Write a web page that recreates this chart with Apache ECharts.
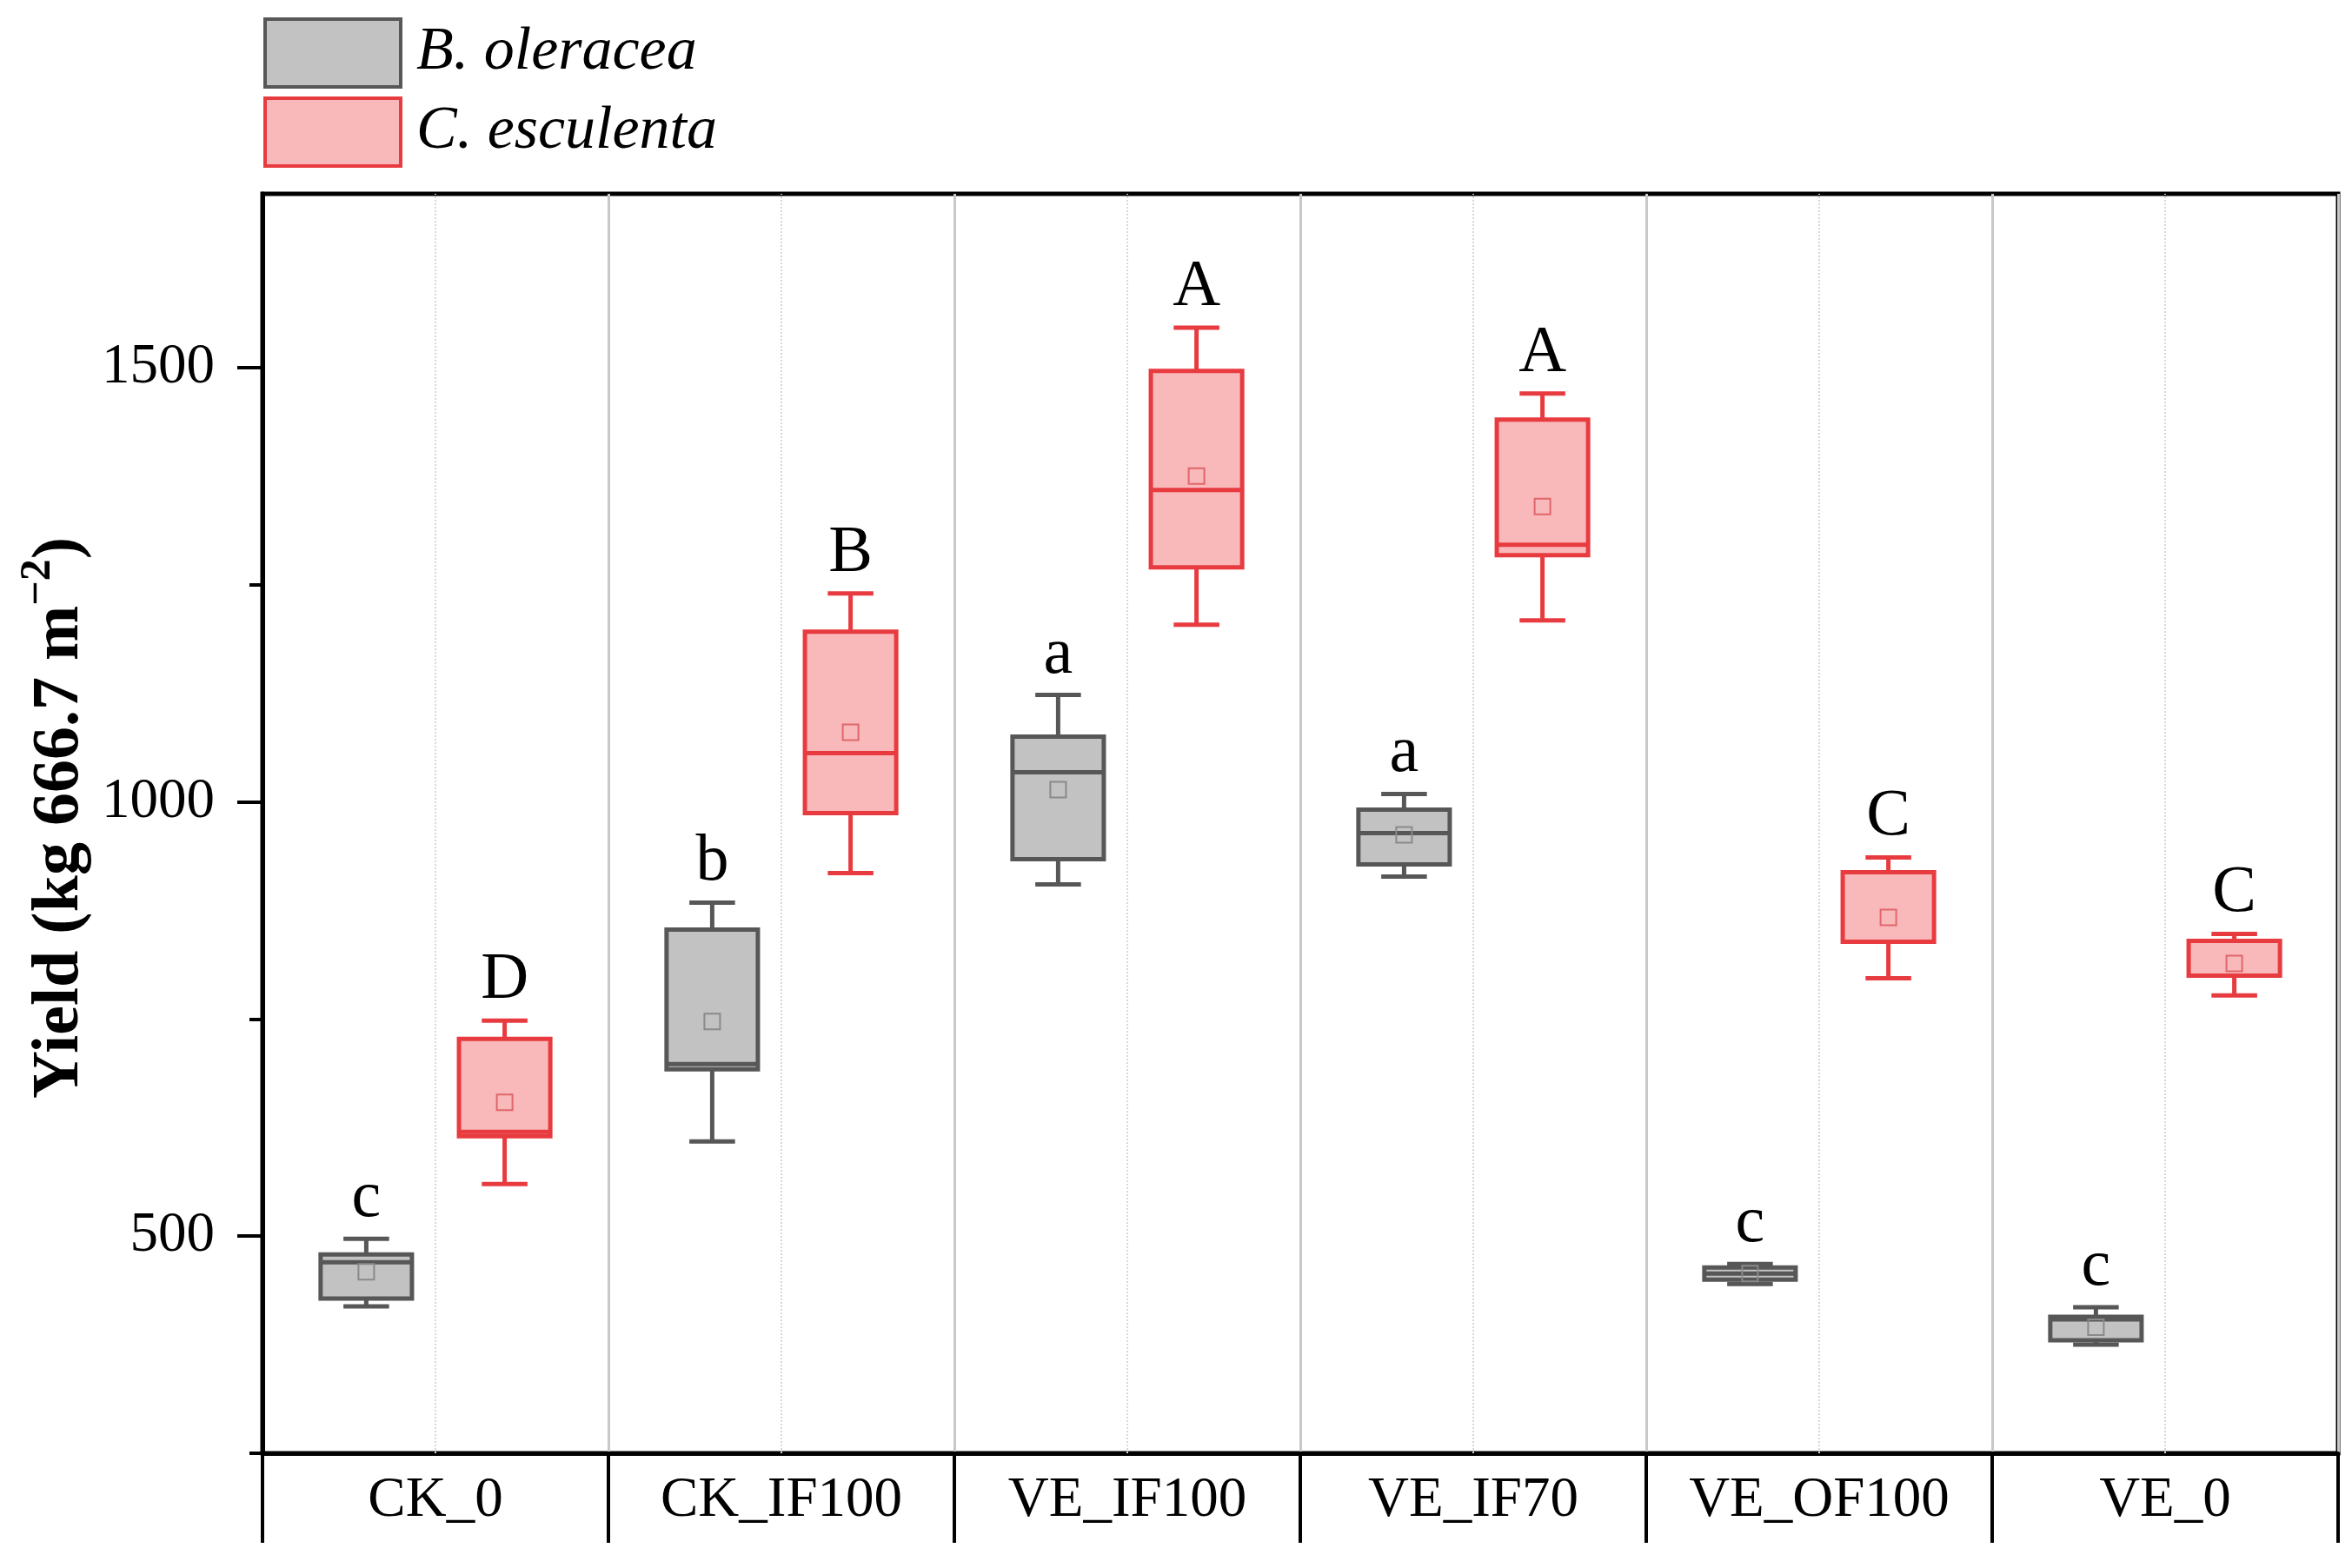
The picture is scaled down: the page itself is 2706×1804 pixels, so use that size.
<!DOCTYPE html>
<html>
<head>
<meta charset="utf-8">
<script src="https://cdn.jsdelivr.net/npm/echarts@6/dist/echarts.min.js"></script>
<style>
  html, body { margin: 0; padding: 0; background: #fff; }
  #chart { width: 2706px; height: 1804px; }
</style>
</head>
<body>
<div id="chart"></div>
<script>
var categories = ['CK_0', 'CK_IF100', 'VE_IF100', 'VE_IF70', 'VE_OF100', 'VE_0'];
// each row: [min, Q1, median, Q3, max, mean]
var oleracea = [
  [419, 428, 470, 479, 497, 459],
  [609, 692, 698, 853, 884, 747],
  [905, 934, 1034, 1075, 1123, 1014],
  [914, 928, 964, 991, 1009, 962],
  [445, 450, 457, 464, 468, 457],
  [375, 380, 404, 407, 418, 395]
];
var esculenta = [
  [560, 615, 620, 727, 748, 654],
  [918, 987, 1056, 1196, 1240, 1080],
  [1204, 1270, 1359, 1496, 1546, 1375],
  [1209, 1284, 1296, 1440, 1470, 1340],
  [797, 839, 839, 919, 936, 867],
  [777, 800, 800, 840, 848, 814]
];
var lettersOleracea = ['c', 'b', 'a', 'a', 'c', 'c'];
var lettersEsculenta = ['D', 'B', 'A', 'A', 'C', 'C'];
var majorTicks = [500, 1000, 1500];
var minorTicks = [250, 750, 1250];
var yMin = 250;
var yMax = 1700;

var serif = '"Times New Roman", "Liberation Serif", serif';

function boxRenderer(shift, stroke, fill, meanStroke, letters) {
  return function (params, api) {
    var idx = api.value(0);
    var band = api.size([1, 0])[0];
    var cx = api.coord([idx, yMin])[0] + shift * band;
    var w = band * 0.264;
    var cap = w * 0.5;
    var pMin = api.coord([idx, api.value(1)])[1];
    var pQ1 = api.coord([idx, api.value(2)])[1];
    var pMed = api.coord([idx, api.value(3)])[1];
    var pQ3 = api.coord([idx, api.value(4)])[1];
    var pMax = api.coord([idx, api.value(5)])[1];
    var pMean = api.coord([idx, api.value(6)])[1];
    var m = 18;
    function ln(x1, y1, x2, y2) {
      return { type: 'line', shape: { x1: x1, y1: y1, x2: x2, y2: y2 }, style: { stroke: stroke, lineWidth: 5 } };
    }
    return {
      type: 'group',
      children: [
        ln(cx, pMax, cx, pQ3),
        ln(cx, pQ1, cx, pMin),
        ln(cx - cap / 2, pMax, cx + cap / 2, pMax),
        ln(cx - cap / 2, pMin, cx + cap / 2, pMin),
        {
          type: 'rect',
          shape: { x: cx - w / 2, y: pQ3, width: w, height: pQ1 - pQ3 },
          style: { fill: fill, stroke: stroke, lineWidth: 5 }
        },
        ln(cx - w / 2, pMed, cx + w / 2, pMed),
        {
          type: 'rect',
          shape: { x: cx - m / 2, y: pMean - m / 2, width: m, height: m },
          style: { fill: 'none', stroke: meanStroke, lineWidth: 2 }
        },
        {
          type: 'text',
          style: {
            text: letters[idx],
            x: cx,
            y: pMax - 8,
            align: 'center',
            verticalAlign: 'bottom',
            fontSize: 76,
            fontFamily: serif,
            fill: '#000'
          }
        }
      ]
    };
  };
}

var chart = echarts.init(document.getElementById('chart'));

var option = {
  backgroundColor: '#fff',
  animation: false,
  legend: {
    orient: 'vertical',
    left: 298,
    top: 15,
    itemWidth: 156,
    itemHeight: 78,
    itemGap: 9,
    textStyle: { fontSize: 70, fontStyle: 'italic', fontFamily: serif, color: '#000', padding: [0, 0, 0, 13] },
    data: [
      { name: 'B. oleracea', icon: 'rect', itemStyle: { color: '#c2c2c2', borderColor: '#575757', borderWidth: 4 } },
      { name: 'C. esculenta', icon: 'rect', itemStyle: { color: '#f9b9bb', borderColor: '#e83b40', borderWidth: 4 } }
    ]
  },
  // y axis title, placed by hand so it sits where the original does
  graphic: [
    {
      type: 'text',
      x: 69,
      y: 941,
      rotation: Math.PI / 2,
      style: {
        text: 'Yield (kg 666.7 m{sup|\u22122})',
        align: 'center',
        verticalAlign: 'middle',
        fontSize: 76,
        fontWeight: 'bold',
        fontFamily: serif,
        fill: '#000',
        lineHeight: 100,
        rich: {
          sup: { fontSize: 50, fontWeight: 'bold', fontFamily: serif, fill: '#000', lineHeight: 50, verticalAlign: 'top' }
        }
      }
    }
  ],
  grid: {
    left: 302,
    right: 16,
    top: 223,
    bottom: 132,
    outerBoundsMode: 'none',
    containLabel: false,
    show: true,
    borderColor: '#000',
    borderWidth: 5
  },
  xAxis: {
    type: 'category',
    data: categories,
    boundaryGap: true,
    axisLine: { lineStyle: { color: '#000', width: 5 } },
    axisTick: { show: true, length: 103, interval: 0, lineStyle: { color: '#000', width: 4 } },
    axisLabel: { fontSize: 65, fontFamily: serif, color: '#000', margin: 22, interval: 0 },
    splitLine: { show: true, interval: 0, lineStyle: { color: '#c8c8c8', width: 3 } }
  },
  yAxis: [
    {
      type: 'value',
      min: yMin,
      max: yMax,
      axisLine: { show: true, lineStyle: { color: '#000', width: 5 } },
      axisTick: { show: true, length: 29, customValues: majorTicks, lineStyle: { color: '#000', width: 4 } },
      axisLabel: {
        customValues: majorTicks,
        fontSize: 65,
        fontFamily: serif,
        color: '#000',
        margin: 55,
        formatter: function (v) { return String(v); }
      },
      splitLine: { show: false }
    },
    {
      type: 'value',
      min: yMin,
      max: yMax,
      position: 'left',
      axisLine: { show: false },
      axisTick: { show: true, length: 15, customValues: minorTicks, lineStyle: { color: '#000', width: 4 } },
      axisLabel: { show: false },
      splitLine: { show: false }
    }
  ],
  series: [
    {
      name: 'centre',
      type: 'line',
      data: [],
      z: 1,
      markLine: {
        silent: true,
        symbol: 'none',
        label: { show: false },
        lineStyle: { type: 'dotted', color: '#d8d8d8', width: 2 },
        data: categories.map(function (c) { return { xAxis: c }; })
      }
    },
    {
      name: 'B. oleracea',
      type: 'custom',
      z: 5,
      itemStyle: { color: '#c2c2c2' },
      renderItem: boxRenderer(-0.2, '#575757', '#c2c2c2', '#8a8a8a', lettersOleracea),
      encode: { x: 0, y: [1, 2, 3, 4, 5, 6] },
      data: oleracea.map(function (d, i) { return [i].concat(d); })
    },
    {
      name: 'C. esculenta',
      type: 'custom',
      z: 5,
      itemStyle: { color: '#f9b9bb' },
      renderItem: boxRenderer(0.2, '#e83b40', '#f9b9bb', '#e0666a', lettersEsculenta),
      encode: { x: 0, y: [1, 2, 3, 4, 5, 6] },
      data: esculenta.map(function (d, i) { return [i].concat(d); })
    }
  ]
};

chart.setOption(option);
</script>
</body>
</html>
